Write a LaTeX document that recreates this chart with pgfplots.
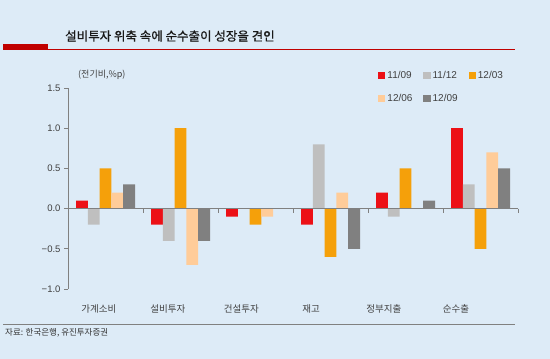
\documentclass[border=0pt]{standalone}
\usepackage{fontspec}
\setmainfont{Liberation Sans}
\newfontfamily\kr{Noto Sans CJK KR}
\newfontfamily\krb[FakeBold=0.8]{Noto Sans CJK KR}
\usepackage{pgfplots}
\pgfplotsset{compat=1.18}
\definecolor{bg}{RGB}{221,235,247}
\definecolor{cA}{RGB}{236,16,22}
\definecolor{cB}{RGB}{191,191,191}
\definecolor{cC}{RGB}{245,160,10}
\definecolor{cD}{RGB}{255,204,153}
\definecolor{cE}{RGB}{128,128,128}
\definecolor{axgray}{RGB}{128,128,128}
\definecolor{dred}{RGB}{192,0,0}
\pgfplotsset{sqleg/.style={legend image code/.code={\fill[##1] (0pt,-3.6pt) rectangle (7.2pt,3.6pt);}}}
\begin{document}
\begin{tikzpicture}[x=1pt,y=1pt]
\fill[bg] (0,0) rectangle (550,359);
\useasboundingbox (0,0) rectangle (550,359);
\fill[dred] (3.3,314.5) rectangle (48.3,309.5);
\draw[dred, line width=0.8pt] (3,310) -- (515,310);
\node[anchor=west, font=\krb\fontsize{12.5}{14}\selectfont, text=black!90, inner sep=0] at (65,323) {설비투자 위축 속에 순수출이 성장을 견인};
\node[anchor=west, inner sep=0, font=\kr\fontsize{9}{10}\selectfont, text=black!75] at (78,284) {(전기비,\%p)};
\draw[axgray, line width=0.8pt] (3,35) -- (515,35);
\node[anchor=west, inner sep=0, font=\kr\fontsize{8.5}{10}\selectfont, text=black!80] at (5,26) {자료: 한국은행, 유진투자증권};
\begin{axis}[
 at={(68pt,70pt)}, anchor=south west,
 width=450pt, height=201pt, scale only axis,
 xmin=-0.5, xmax=5.5, ymin=-1, ymax=1.5,
 axis y line=left, axis x line=bottom,
 axis line style={-, draw=axgray, line width=0.7pt},
 x axis line style={draw=none},
 ytick={-1,-0.5,0,0.5,1,1.5},
 yticklabels={−1.0,−0.5,0.0,0.5,1.0,1.5},
 xtick={-0.087,0.833,1.813,2.74,3.713,4.673},
 xticklabels={가계소비,설비투자,건설투자,재고,정부지출,순수출},
 xtick style={draw=none},
 ytick style={draw=axgray, line width=0.7pt},
 tick align=outside, major tick length=4pt,
 yticklabel style={font=\fontsize{9.5}{11}\selectfont, text=black!75},
 xticklabel style={font=\kr\fontsize{9.5}{11}\selectfont, text=black!75, yshift=-8pt},
 ybar=0pt, bar width=11.8pt,
 legend columns=3,
 legend style={at={(axis description cs:0.689,1.094)}, anchor=north west, draw=none, fill=none, font=\fontsize{10}{12}\selectfont, text=black!75, row sep=10pt, /tikz/every even column/.append style={column sep=9pt}, inner sep=0pt},
 legend cell align=left,
 clip=false,
]
\addplot[fill=cA, draw=none, sqleg] coordinates {(0,0.1)(1,-0.2)(2,-0.1)(3,-0.2)(4,0.2)(5,1.0)};
\addplot[fill=cB, draw=none, sqleg] coordinates {(0,-0.2)(1,-0.4)(2,0)(3,0.8)(4,-0.1)(5,0.3)};
\addplot[fill=cC, draw=none, sqleg] coordinates {(0,0.5)(1,1.0)(2,-0.2)(3,-0.6)(4,0.5)(5,-0.5)};
\addplot[fill=cD, draw=none, sqleg] coordinates {(0,0.2)(1,-0.7)(2,-0.1)(3,0.2)(4,0)(5,0.7)};
\addplot[fill=cE, draw=none, sqleg] coordinates {(0,0.3)(1,-0.4)(2,0)(3,-0.5)(4,0.1)(5,0.5)};
\legend{11/09,11/12,12/03,12/06,12/09}
\draw[axgray, line width=0.7pt] (axis cs:-0.5,0) -- (axis cs:5.5,0);
\pgfplotsinvokeforeach{0.5,1.5,2.5,3.5,4.5,5.5}{\draw[axgray, line width=0.7pt] (axis cs:#1,0) -- ([yshift=-4pt]axis cs:#1,0);}
\end{axis}
\end{tikzpicture}
\end{document}
